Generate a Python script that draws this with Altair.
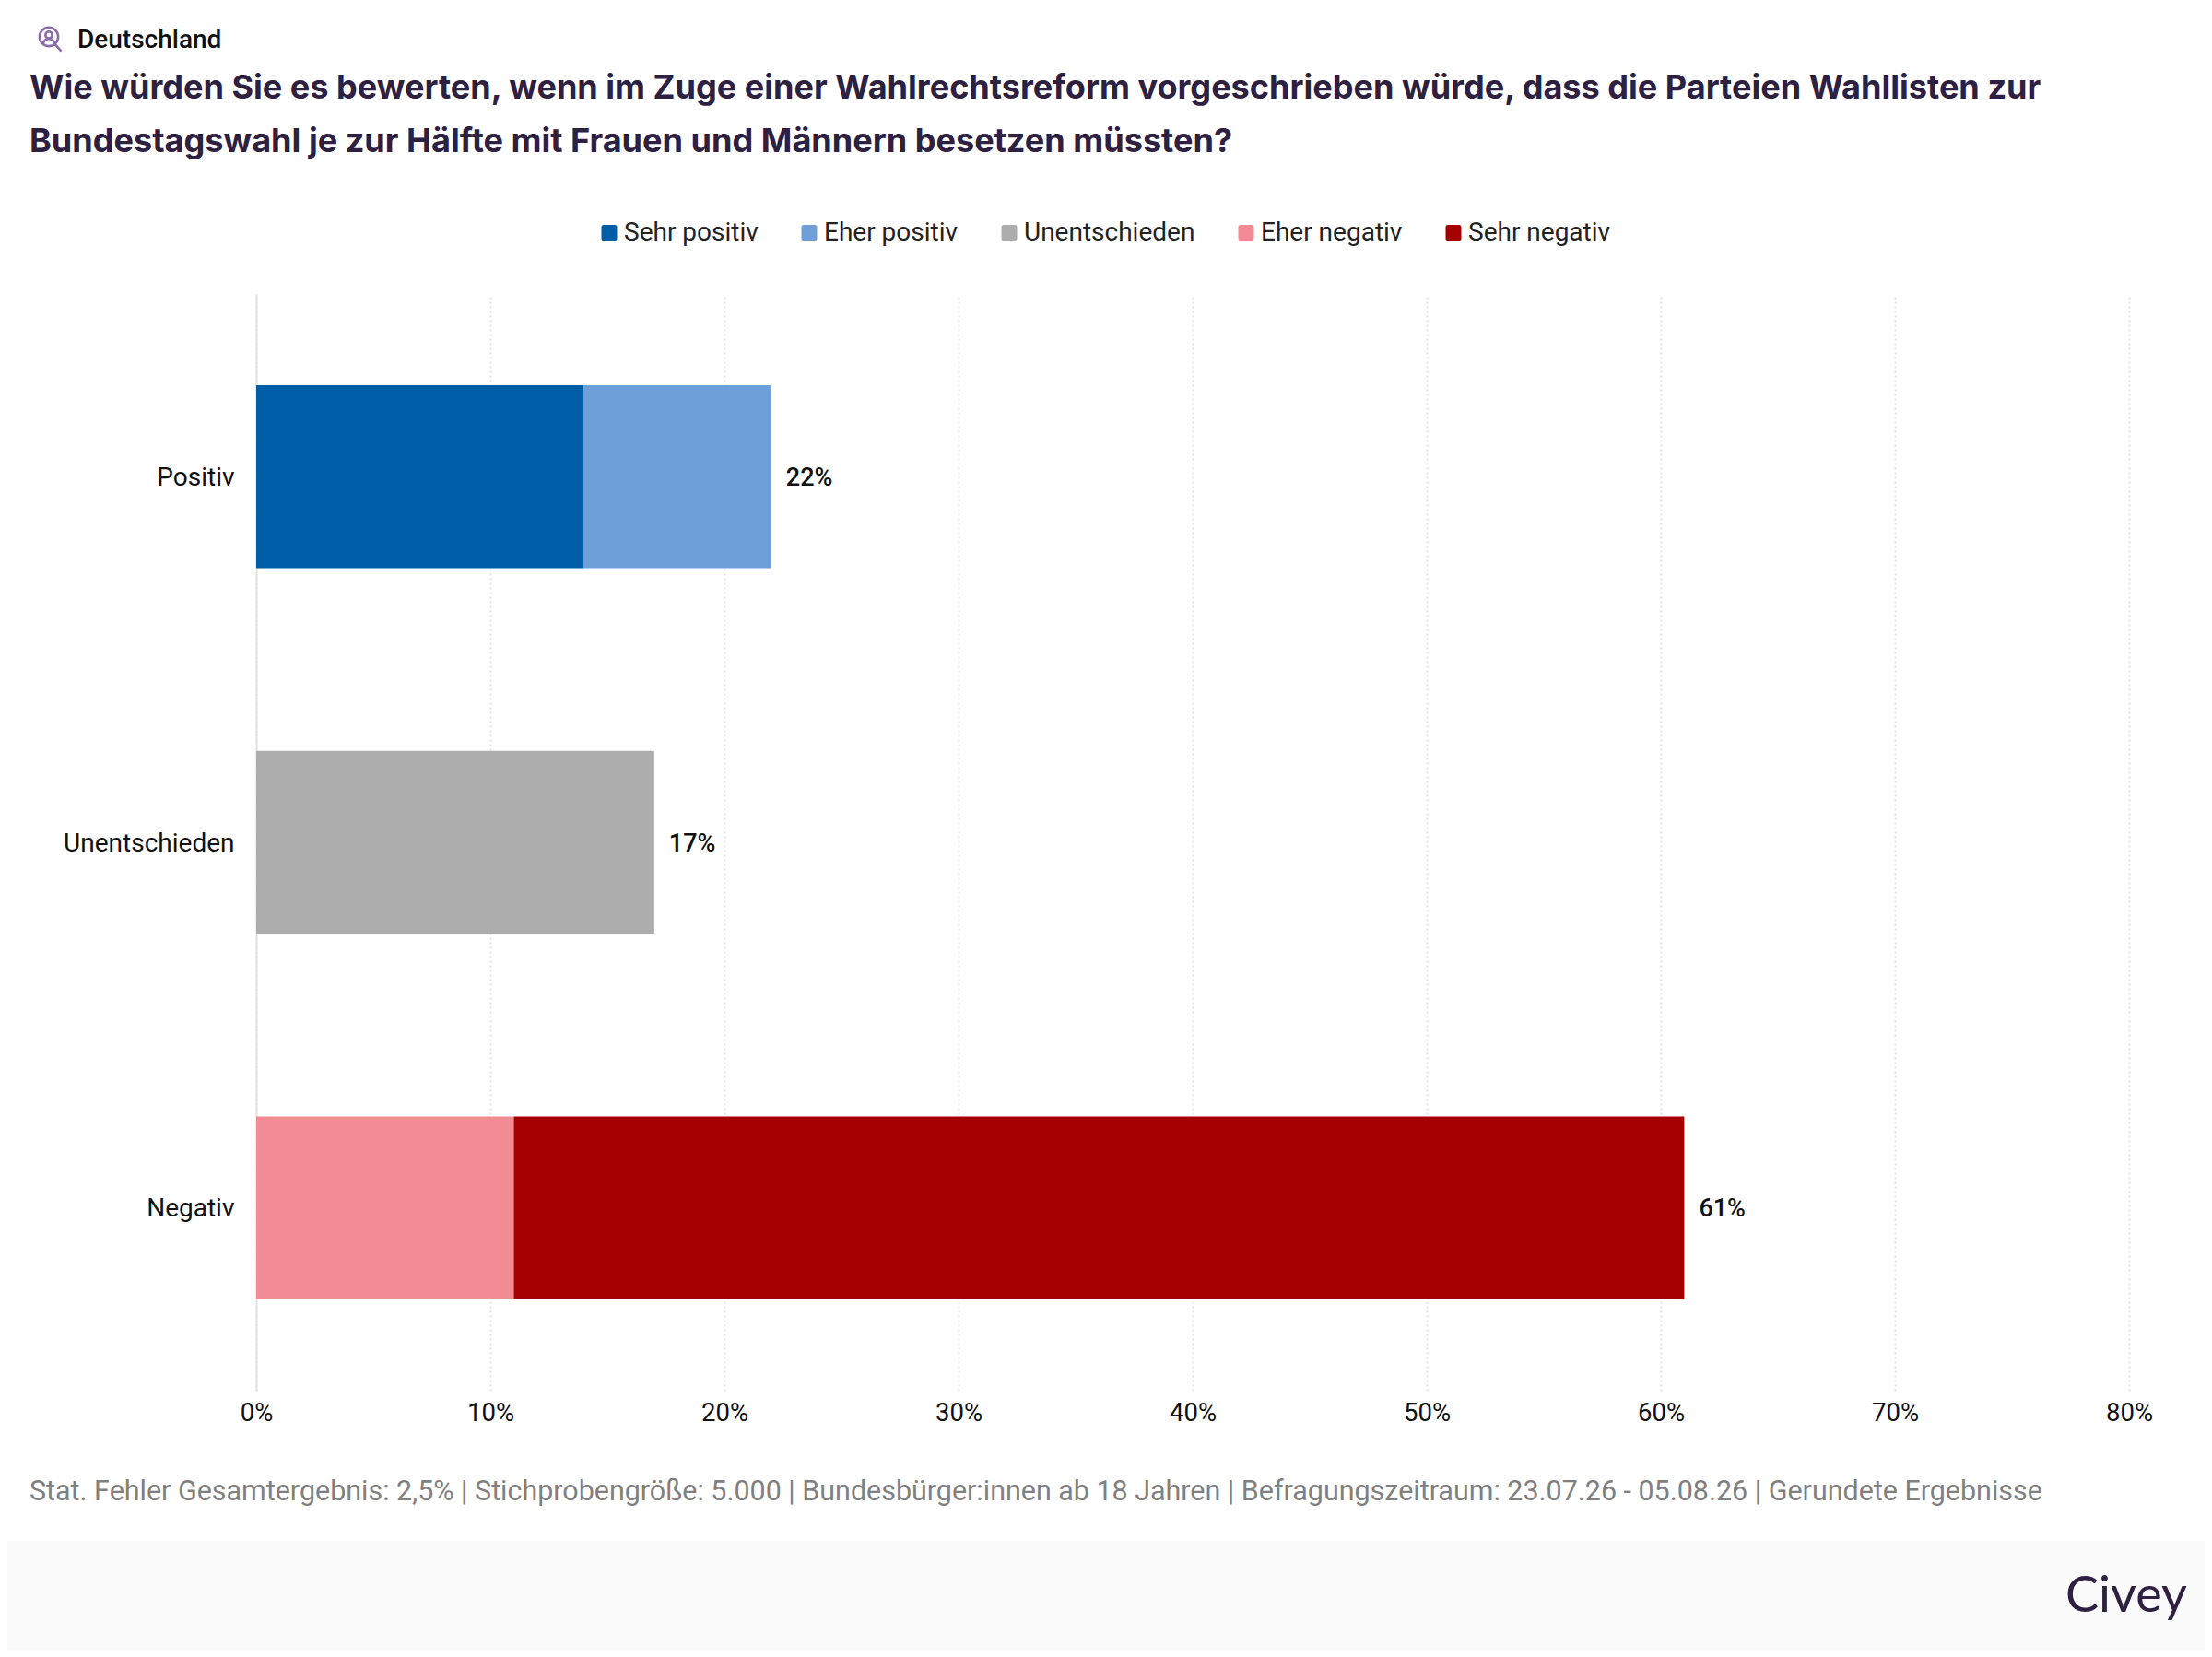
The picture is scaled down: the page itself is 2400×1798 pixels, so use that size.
import altair as alt
import pandas as pd

categories = ["Positiv", "Unentschieden", "Negativ"]
series = ["Sehr positiv", "Eher positiv", "Unentschieden", "Eher negativ", "Sehr negativ"]
colors = ["#005EA8", "#6F9FD8", "#ADADAD", "#F28B94", "#A50000"]
sehr_positiv = [14, 0, 0]
eher_positiv = [8, 0, 0]
unentschieden = [0, 17, 0]
eher_negativ = [0, 0, 11]
sehr_negativ = [0, 0, 50]
totals = [22, 17, 61]
x_ticks = [0, 10, 20, 30, 40, 50, 60, 70, 80]

title_lines = [
    "Wie würden Sie es bewerten, wenn im Zuge einer Wahlrechtsreform vorgeschrieben würde, dass die Parteien Wahllisten zur",
    "Bundestagswahl je zur Hälfte mit Frauen und Männern besetzen müssten?",
]
region = "Deutschland"
footnote = ("Stat. Fehler Gesamtergebnis: 2,5% | Stichprobengröße: 5.000 | Bundesbürger:innen ab 18 Jahren | "
            "Befragungszeitraum: 23.07.26 - 05.08.26 | Gerundete Ergebnisse")
brand = "Civey"

rows = []
for name, vals in zip(series, [sehr_positiv, eher_positiv, unentschieden, eher_negativ, sehr_negativ]):
    for cat, v in zip(categories, vals):
        if v:
            rows.append({"cat": cat, "series": name, "value": v, "order": series.index(name)})
bars_df = pd.DataFrame(rows)
totals_df = pd.DataFrame({"cat": categories, "total": totals, "label": [f"{t}%" for t in totals]})

W, H = 2032, 1190
LEFT, TOP = 270, 311
FULL_W, FULL_H = 2384, 1782
one = pd.DataFrame({"a": [0]})

x_scale = alt.Scale(domain=[0, 80], nice=False)
y_scale = alt.Scale(domain=categories, paddingInner=0.5, paddingOuter=0.25)

band = alt.Chart(one).mark_rect(color="#FAFAFB").encode(
    x=alt.value(-LEFT), x2=alt.value(FULL_W - LEFT),
    y=alt.value(1672 - 8 - TOP), y2=alt.value(FULL_H - TOP),
)

bars = alt.Chart(bars_df).mark_bar(size=198.5).encode(
    x=alt.X("value:Q", stack="zero", scale=x_scale, title=None,
            axis=alt.Axis(values=x_ticks, labelExpr="datum.value + '%'", grid=True,
                          gridColor="#E4E4E4", gridDash=[2, 3], gridWidth=2,
                          domain=False, ticks=False, labelPadding=10, labelFlush=False,
                          labelFont="Roboto", labelFontSize=27.5, labelColor="#111111")),
    y=alt.Y("cat:N", sort=categories, scale=y_scale, title=None,
            axis=alt.Axis(domain=True, domainColor="#E2E2E2", domainWidth=2, ticks=False,
                          grid=False, labelPadding=24, labelFont="Roboto", labelFontSize=28,
                          labelOffset=1.5, labelLimit=400, labelColor="#111111")),
    color=alt.Color("series:N", scale=alt.Scale(domain=series, range=colors),
                    legend=alt.Legend(orient="none", legendX=369, legendY=-80.5, direction="horizontal",
                                      title=None, symbolSize=289, symbolStrokeWidth=0,
                                      symbolType="M-0.7,-1 H0.7 Q1,-1 1,-0.7 V0.7 Q1,1 0.7,1 H-0.7 Q-1,1 -1,0.7 V-0.7 Q-1,-1 -0.7,-1 Z",
                                      labelFont="Roboto", labelFontSize=28, labelColor="#222222",
                                      labelOffset=2, columnPadding=41, labelLimit=400)),
    order=alt.Order("order:Q"),
)

labels = alt.Chart(totals_df).mark_text(align="left", baseline="middle", dx=16, dy=1.5, font="Roboto",
                                        fontSize=27, fontWeight=500, color="#111111").encode(
    x=alt.X("total:Q", scale=x_scale),
    y=alt.Y("cat:N", sort=categories, scale=y_scale),
    text="label:N",
)

def note(text, x, y, **kw):
    return alt.Chart(pd.DataFrame({"t": [text]})).mark_text(align="left", baseline="middle", **kw).encode(
        x=alt.value(x - 8 - LEFT), y=alt.value(y - 8 - TOP), text="t:N")

region_text = note(region, 84, 43.5, font="Roboto", fontSize=28, fontWeight=500, color="#111111")
foot_text = note(footnote, 32, 1619, font="Roboto", fontSize=30.45, color="#808080")
brand_text = note(brand, 2241, 1733, font="Lato", fontSize=54, fontWeight=400, color="#2D2040")

icon = alt.Chart(one).mark_point(
    shape="M-0.75,-0.15 A0.75,0.75 0 1 1 0.75,-0.15 A0.75,0.75 0 1 1 -0.75,-0.15 Z "
          "M-0.27,-0.3 A0.27,0.27 0 1 1 0.27,-0.3 A0.27,0.27 0 1 1 -0.27,-0.3 Z "
          "M-0.45,0.42 Q-0.4,0.02 0,0.02 Q0.4,0.02 0.45,0.42 M0.5,0.45 L1,1",
    size=730, filled=False, stroke="#8C6BA8", strokeWidth=2.6, opacity=1,
).encode(x=alt.value(53 - 8 - LEFT), y=alt.value(42 - 8 - TOP))

chart = alt.layer(band, bars, labels, region_text, foot_text, brand_text, icon).resolve_scale(
    color="independent"
).properties(
    width=W, height=H,
    padding={"left": LEFT, "top": TOP, "right": FULL_W - LEFT - W, "bottom": FULL_H - TOP - H},
    autosize=alt.AutoSizeParams(type="none"),
    title=alt.TitleParams(text=title_lines, anchor="start", frame="group", dx=-246, offset=0, dy=147,
                          font="Inter", fontSize=36.1, fontWeight=700, color="#2D2040", lineHeight=58),
).configure_view(stroke=None)

chart.save("out.html", embed_options={"renderer": "svg", "actions": False})
